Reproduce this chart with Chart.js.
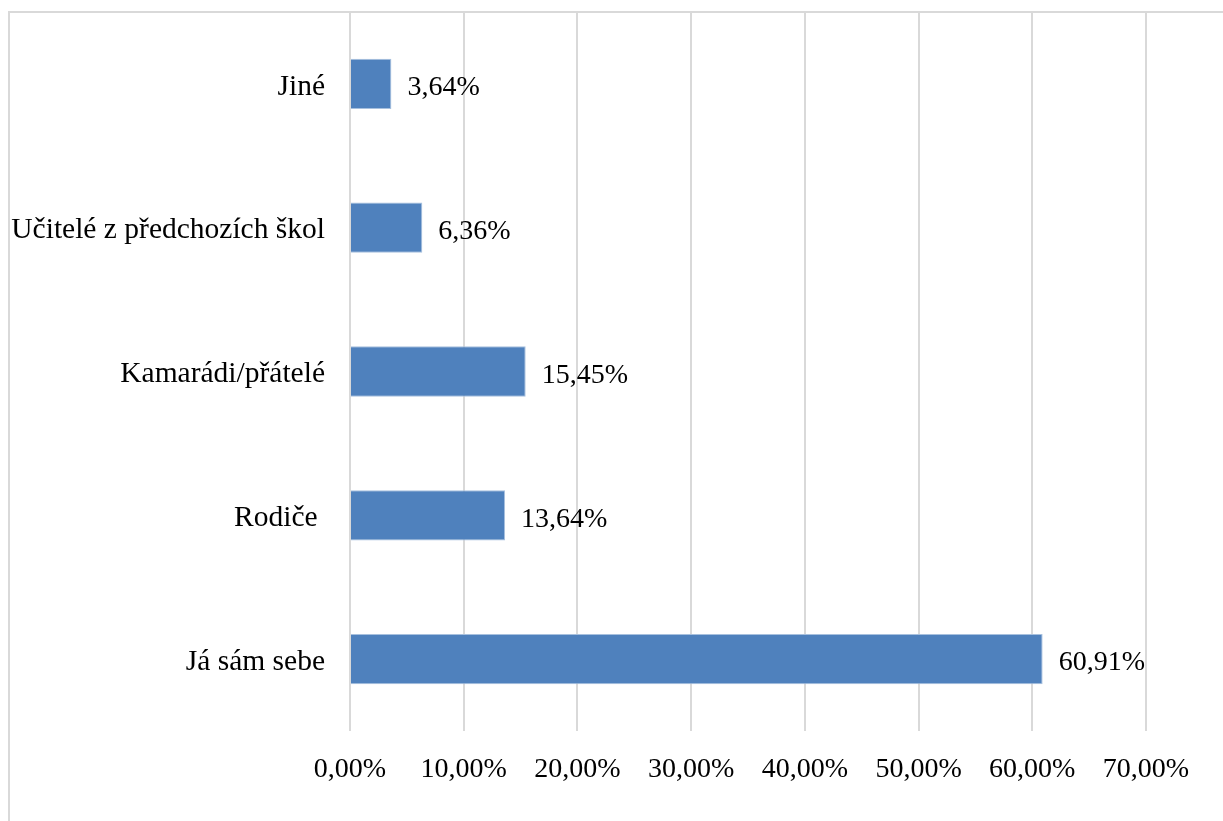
<!DOCTYPE html>
<html>
<head>
<meta charset="utf-8">
<script src="https://cdn.jsdelivr.net/npm/chart.js@4/dist/chart.umd.min.js"></script>
<style>
  html, body { margin: 0; padding: 0; background: #fff; }
  #chart { display: block; }
</style>
</head>
<body>
<canvas id="chart" width="1223" height="821"></canvas>
<script>
// data (top to bottom)
var categories = ['Jiné', 'Učitelé z předchozích škol', 'Kamarádi/přátelé', 'Rodiče ', 'Já sám sebe'];
var shares = [3.64, 6.36, 15.45, 13.64, 60.91];
var xTicks = [0, 10, 20, 30, 40, 50, 60, 70];

function pct(v) {
    return v.toFixed(2).replace('.', ',') + '%';
}

// frame round the chart (only left and top edges are in the picture)
var framePlugin = {
    id: 'frame',
    beforeDraw: function (chart) {
        var c = chart.ctx;
        c.save();
        c.strokeStyle = '#d9d9d9';
        c.lineWidth = 2;
        c.beginPath();
        c.moveTo(9, 821);
        c.lineTo(9, 12);
        c.lineTo(1223, 12);
        c.stroke();
        c.restore();
    }
};

// value labels at the end of each bar
var valueLabels = {
    id: 'valueLabels',
    afterDatasetsDraw: function (chart) {
        var c = chart.ctx;
        var meta = chart.getDatasetMeta(0);
        c.save();
        c.font = '28px "Liberation Serif", "Times New Roman", serif';
        c.fillStyle = '#000';
        c.textAlign = 'left';
        c.textBaseline = 'middle';
        meta.data.forEach(function (bar, i) {
            c.fillText(pct(shares[i]), bar.x + 16, bar.y + 4);
        });
        c.restore();
    }
};

var ctx = document.getElementById('chart');
var chart = new Chart(ctx, {
    type: 'bar',
    data: {
        labels: categories,
        datasets: [{
            data: shares,
            backgroundColor: '#4f81bd',
            borderColor: '#a7c0de',
            borderWidth: 1,
            barPercentage: 0.35,
            categoryPercentage: 1
        }]
    },
    options: {
        indexAxis: 'y',
        responsive: false,
        animation: false,
        devicePixelRatio: 1,
        layout: { padding: { left: 0, right: 77, top: 12, bottom: 0 } },
        plugins: {
            legend: { display: false },
            tooltip: { enabled: false }
        },
        scales: {
            x: {
                min: 0,
                max: 70,
                afterBuildTicks: function (scale) {
                    scale.ticks = xTicks.map(function (v) { return { value: v }; });
                },
                afterFit: function (scale) {
                    scale.height = 90;
                    scale.paddingLeft = 0;
                    scale.paddingRight = 0;
                },
                grid: { color: '#d9d9d9', lineWidth: 2, drawTicks: false },
                border: { display: false },
                ticks: {
                    padding: 22,
                    color: '#000',
                    font: { family: '"Liberation Serif", "Times New Roman", serif', size: 28 },
                    callback: function (v) { return pct(v); }
                }
            },
            y: {
                afterFit: function (scale) {
                    scale.width = 350;
                    scale.paddingTop = 0;
                    scale.paddingBottom = 0;
                },
                grid: { display: false, drawTicks: false },
                border: { display: false },
                ticks: {
                    padding: 25,
                    labelOffset: 3,
                    color: '#000',
                    font: { family: '"Liberation Serif", "Times New Roman", serif', size: 29.5 }
                }
            }
        }
    },
    plugins: [framePlugin, valueLabels]
});
</script>
</body>
</html>
